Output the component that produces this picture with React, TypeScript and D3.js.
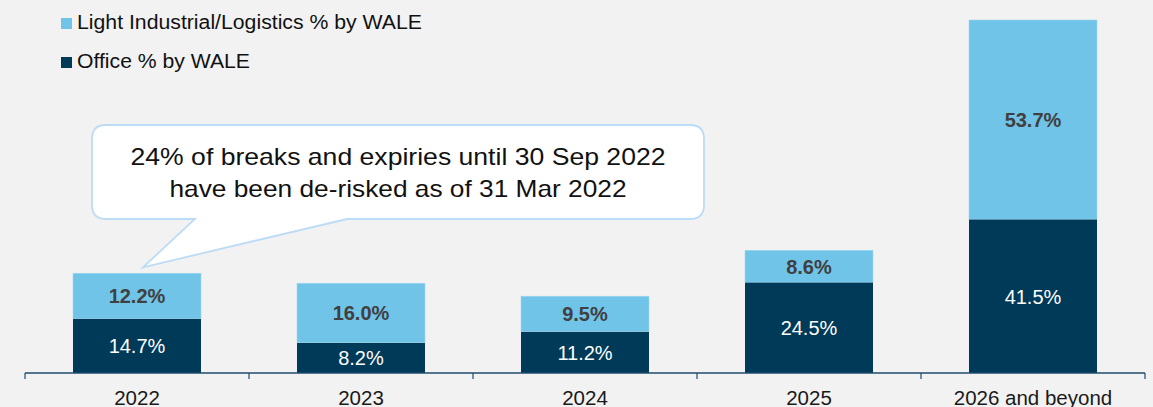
import React from 'react';
import * as d3 from 'd3';

const categories = ['2022', '2023', '2024', '2025', '2026 and beyond'];
const officeValues = [14.7, 8.2, 11.2, 24.5, 41.5];
const industrialValues = [12.2, 16.0, 9.5, 8.6, 53.7];
const seriesNames = ['Light Industrial/Logistics % by WALE', 'Office % by WALE'];
const calloutLines = ['24% of breaks and expiries until 30 Sep 2022', 'have been de-risked as of 31 Mar 2022'];

const W = 1153;
const H = 407;
const LIGHT = '#70c4e8';
const DARK = '#003a59';
const FONT = 'Liberation Sans, Arial, sans-serif';

export default function App() {
  const x = d3.scaleBand<string>()
    .domain(categories)
    .range([25, 1145])
    .paddingInner(0.4286)
    .paddingOuter(0.2143);
  const y = d3.scaleLinear().domain([0, 100]).range([373, 2.2]);

  const rows = categories.map((c, i) => ({
    cat: c,
    office: officeValues[i],
    industrial: industrialValues[i],
  }));
  const stack = d3.stack<any>().keys(['office', 'industrial'])(rows);

  const baseY = y(0);
  const bw = x.bandwidth();
  const step = x.step();

  // callout tail tip near the 2022 bar
  const tipX = (x('2022') ?? 0) + bw / 2 + 6;
  const tipY = y(officeValues[0] + industrialValues[0]) - 6;
  const bx0 = 92, bx1 = 704, by0 = 125, by1 = 219, r = 14;
  const calloutPath = [
    `M${bx0 + r},${by0}`,
    `H${bx1 - r}`,
    `Q${bx1},${by0} ${bx1},${by0 + r}`,
    `V${by1 - r}`,
    `Q${bx1},${by1} ${bx1 - r},${by1}`,
    `H347`,
    `L${tipX},${tipY}`,
    `L195,${by1}`,
    `H${bx0 + r}`,
    `Q${bx0},${by1} ${bx0},${by1 - r}`,
    `V${by0 + r}`,
    `Q${bx0},${by0} ${bx0 + r},${by0}`,
    'Z',
  ].join(' ');

  return (
    <div style={{ position: 'fixed', left: 0, top: 0, width: W, height: H, background: '#f2f2f2' }}>
      <svg width={W} height={H} style={{ display: 'block', fontFamily: FONT }}>
        <rect x={0} y={0} width={W} height={H} fill="#f2f2f2" />

        {/* legend */}
        <rect x={61} y={18} width={11} height={11} fill={LIGHT} />
        <text x={77} y={29} fontSize={20} fill="#111" textLength={345} lengthAdjust="spacingAndGlyphs">{seriesNames[0]}</text>
        <rect x={61} y={57} width={11} height={11} fill={DARK} />
        <text x={77} y={68} fontSize={20} fill="#111" textLength={173} lengthAdjust="spacingAndGlyphs">{seriesNames[1]}</text>

        {/* bars */}
        {stack.map((layer, li) => (
          <g key={layer.key}>
            {layer.map((d, i) => {
              const x0 = x(categories[i]) ?? 0;
              const yTop = y(d[1]);
              const yBot = y(d[0]);
              const v = d[1] - d[0];
              const isLight = li === 1;
              return (
                <g key={i}>
                  <rect
                    x={x0}
                    y={yTop}
                    width={bw}
                    height={yBot - yTop}
                    fill={isLight ? LIGHT : DARK}
                    stroke={isLight ? '#9fd6ef' : 'none'}
                    strokeWidth={0.6}
                  />
                  <text
                    x={x0 + bw / 2}
                    y={(yTop + yBot) / 2 + 7.5}
                    textAnchor="middle"
                    fontSize={20}
                    fontWeight={isLight ? 700 : 400}
                    fill={isLight ? '#404040' : '#ffffff'}
                  >
                    {v.toFixed(1)}%
                  </text>
                </g>
              );
            })}
          </g>
        ))}

        {/* x axis */}
        <line x1={25} x2={1145} y1={baseY} y2={baseY} stroke="#1f4b6b" strokeWidth={1.5} />
        {d3.range(categories.length + 1).map(i => (
          <line key={i} x1={25 + i * step} x2={25 + i * step} y1={baseY} y2={baseY + 6} stroke="#1f4b6b" strokeWidth={1.2} />
        ))}
        {categories.map(c => (
          <text key={c} x={(x(c) ?? 0) + bw / 2} y={405} textAnchor="middle" fontSize={20.5} fill="#1a1a1a">{c}</text>
        ))}

        {/* callout */}
        <path d={calloutPath} fill="#ffffff" stroke="#bcdcf5" strokeWidth={1.8} />
        <text x={398} y={165} textAnchor="middle" fontSize={24} fill="#111" textLength={535} lengthAdjust="spacingAndGlyphs">{calloutLines[0]}</text>
        <text x={398} y={197} textAnchor="middle" fontSize={24} fill="#111" textLength={457} lengthAdjust="spacingAndGlyphs">{calloutLines[1]}</text>
      </svg>
    </div>
  );
}
